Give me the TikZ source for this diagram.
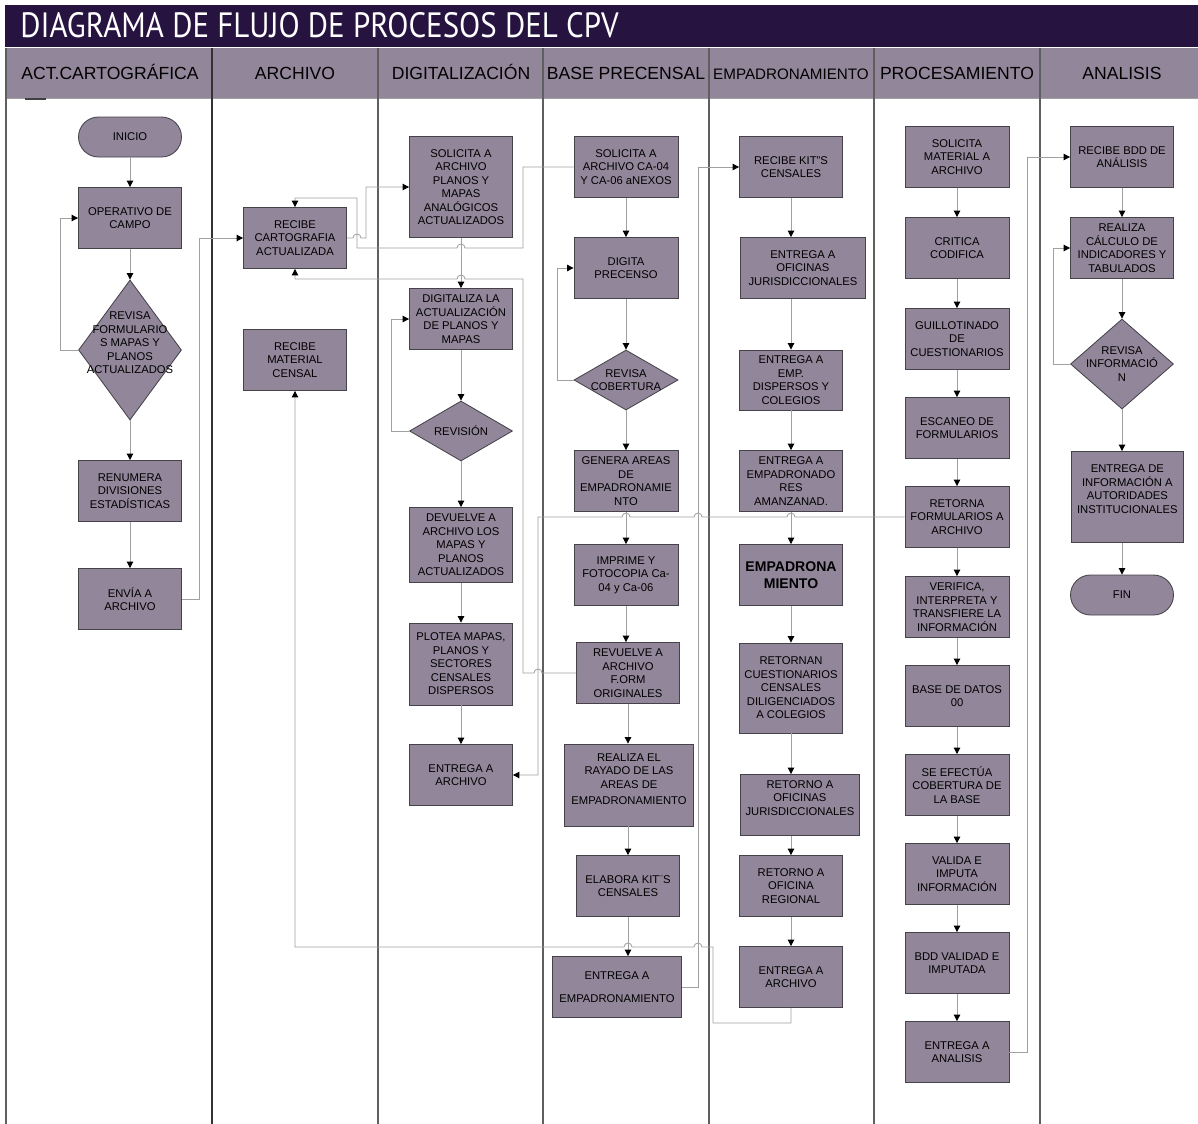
\documentclass[tikz,border=0pt]{standalone}
\usepackage{fontspec}
\setmainfont{Liberation Sans}
\newfontfamily\titlefont[FakeStretch=0.88]{PT Sans}
\usetikzlibrary{shapes.geometric}
\usetikzlibrary{arrows.meta}
\definecolor{titlebg}{RGB}{39,19,64}
\definecolor{boxbg}{RGB}{146,135,154}
\definecolor{boxline}{RGB}{70,66,74}
\definecolor{linkgray}{RGB}{160,160,160}
\definecolor{lanegray}{RGB}{95,95,95}
\tikzset{
	wh/.style 2 args={minimum width=#1*0.025cm, minimum height=#2*0.025cm},
	proc/.style={rectangle, draw=boxline, fill=boxbg, line width=0.6pt, inner sep=1pt, align=center, font=\fontsize{8}{9.6}\selectfont, wh={103}{61}},
	term/.style={proc, rounded corners=0.5cm, wh={103}{40}},
	dec/.style={diamond, draw=boxline, fill=boxbg, line width=0.6pt, inner sep=0pt, wh={103}{60}},
	dtxt/.style={align=center, font=\fontsize{8}{9.6}\selectfont, inner sep=0pt},
	link/.style={draw=linkgray, line width=0.6pt, -{Triangle[length=4.6pt,width=4.6pt,color=black]}},
	lane/.style={draw=lanegray, line width=0.8pt},
	head/.style={font=\fontsize{12.5}{14}\selectfont, anchor=base}
}

\begin{document}
\begin{tikzpicture}[x=0.025cm, y=-0.025cm]
	\useasboundingbox (0,0) rectangle (1198,1124);
	% Title
	\fill[titlebg] (5,5) rectangle (1198,47);
	\node[font=\titlefont\fontsize{25}{28}\selectfont, text=white, anchor=base west, inner sep=0pt] (title) at (20,37) {DIAGRAMA DE FLUJO DE PROCESOS DEL CPV};
	\fill[boxbg] (5,48) rectangle (1198,98);
	\draw[linkgray] (5,98) -- (1198,98);
	\draw[line width=1.5pt, black!75] (25,99) -- (46,99);

	% lanes
	\draw[lane] (6,48) -- (6,1124);
	\draw[lane, line width=1.2pt, black!80] (212,48) -- (212,1124);
	\draw[lane] (378,48) -- (378,1124);
	\draw[lane] (543,48) -- (543,1124);
	\draw[lane] (709,48) -- (709,1124);
	\draw[lane] (874,48) -- (874,1124);
	\draw[lane] (1040,48) -- (1040,1124);

	\node[head] (h1) at (110,79) {ACT.CARTOGRÁFICA};
	\node[head] (h2) at (295,79) {ARCHIVO};
	\node[head] (h3) at (461,79) {DIGITALIZACIÓN};
	\node[head] (h4) at (626,79) {BASE PRECENSAL};
	\node[head, font=\fontsize{10.8}{12}\selectfont] (h5) at (791,79) {EMPADRONAMIENTO};
	\node[head] (h6) at (957,79) {PROCESAMIENTO};
	\node[head] (h7) at (1122,79) {ANALISIS};

	% act. cartografica
	\node[term] (ini) at (130,137) {INICIO};
	\node[proc] (oper) at (130,218) {OPERATIVO DE\\CAMPO};
	\node[dec, wh={103}{140}, label={[dtxt, yshift=5pt]center:{REVISA\\FORMULARIO\\S MAPAS Y\\PLANOS\\ACTUALIZADOS}}] (rev1) at (130,350) {};
	\node[proc] (renum) at (130,491) {RENUMERA\\DIVISIONES\\ESTADÍSTICAS};
	\node[proc] (envia) at (130,599) {ENVÍA A\\ARCHIVO};

	% archivo
	\node[proc] (rcarto) at (295,238) {RECIBE\\CARTOGRAFIA\\ACTUALIZADA};
	\node[proc] (rmat) at (295,360) {RECIBE\\MATERIAL\\CENSAL};

	% digitalizacion
	\node[proc, wh={103}{101}] (sol3) at (461,187) {SOLICITA A\\ARCHIVO\\PLANOS Y\\MAPAS\\ANALÓGICOS\\ACTUALIZADOS};
	\node[proc] (digi) at (461,319) {DIGITALIZA LA\\ACTUALIZACIÓN\\DE PLANOS Y\\MAPAS};
	\node[dec, label={[dtxt]center:REVISIÓN}] (revi) at (461,431) {};
	\node[proc, wh={103}{75}] (devu) at (461,545) {DEVUELVE A\\ARCHIVO LOS\\MAPAS Y\\PLANOS\\ACTUALIZADOS};
	\node[proc, wh={103}{82}] (plot) at (461,664) {PLOTEA MAPAS,\\PLANOS Y\\SECTORES\\CENSALES\\DISPERSOS};
	\node[proc] (ent3) at (461,775) {ENTREGA A\\ARCHIVO};

	% base precensal
	\node[proc, wh={104}{61}] (sol4) at (626,167) {SOLICITA A\\ARCHIVO CA-04\\Y CA-06 aNEXOS};
	\node[proc, wh={104}{61}] (digp) at (626,268) {DIGITA\\PRECENSO};
	\node[dec, wh={104}{60}, label={[dtxt]center:{REVISA\\COBERTURA}}] (revc) at (626,380) {};
	\node[proc, wh={104}{61}] (gen) at (626,481) {GENERA AREAS\\DE\\EMPADRONAMIE\\NTO};
	\node[proc, wh={104}{61}] (impr) at (626,575) {IMPRIME Y\\FOTOCOPIA Ca-\\04 y Ca-06};
	\node[proc] (revu) at (628,673) {REVUELVE A\\ARCHIVO\\F.ORM\\ORIGINALES};
	\node[proc, wh={129}{82}] (raya) at (629,785) {REALIZA EL\\RAYADO DE LAS\\AREAS DE\\[2pt]EMPADRONAMIENTO\\[-1pt]};
	\node[proc] (elab) at (628,886) {ELABORA KIT¨S\\CENSALES};
	\node[proc, wh={129}{61}] (entemp) at (617,987) {ENTREGA A\\[7pt]EMPADRONAMIENTO};

	% empadronamiento
	\node[proc] (rkit) at (791,167) {RECIBE KIT"S\\CENSALES};
	\node[proc, wh={125}{61}, anchor=west] (eofi) at (740,268) {ENTREGA A\\OFICINAS\\JURISDICCIONALES};
	\node[proc, wh={103}{60}] (edis) at (791,380) {ENTREGA A\\EMP.\\DISPERSOS Y\\COLEGIOS};
	\node[proc] (eama) at (791,481) {ENTREGA A\\EMPADRONADO\\RES\\AMANZANAD.};
	\node[proc, font=\bfseries\fontsize{10}{12}\selectfont] (empa) at (791,575) {EMPADRONA\\MIENTO};
	\node[proc, wh={103}{90}] (rcue) at (791,688) {RETORNAN\\CUESTIONARIOS\\CENSALES\\DILIGENCIADOS\\A COLEGIOS};
	\node[proc, wh={119}{61}, anchor=west] (rofi) at (740,805) {RETORNO A\\OFICINAS\\JURISDICCIONALES\\[0.3pt]};
	\node[proc] (rreg) at (791,886) {RETORNO A\\OFICINA\\REGIONAL};
	\node[proc] (ent5) at (791,977) {ENTREGA A\\ARCHIVO};

	% procesamiento
	\node[proc, wh={104}{61}] (smat) at (957,157) {SOLICITA\\MATERIAL A\\ARCHIVO};
	\node[proc, wh={104}{61}] (crit) at (957,248) {CRITICA\\CODIFICA};
	\node[proc, wh={104}{61}] (guil) at (957,339) {GUILLOTINADO\\DE\\CUESTIONARIOS};
	\node[proc, wh={104}{61}] (esca) at (957,428) {ESCANEO DE\\FORMULARIOS};
	\node[proc, wh={104}{61}] (retf) at (957,517) {RETORNA\\FORMULARIOS A\\ARCHIVO};
	\node[proc, wh={104}{61}] (veri) at (957,607) {VERIFICA,\\INTERPRETA Y\\TRANSFIERE LA\\INFORMACIÓN};
	\node[proc, wh={104}{61}] (bdd0) at (957,696) {BASE DE DATOS\\00};
	\node[proc, wh={104}{61}] (cobe) at (957,785) {SE EFECTÚA\\COBERTURA DE\\LA BASE};
	\node[proc, wh={104}{61}] (vali) at (957,874) {VALIDA E\\IMPUTA\\INFORMACIÓN};
	\node[proc, wh={104}{61}] (bddv) at (957,963) {BDD VALIDAD E\\IMPUTADA};
	\node[proc, wh={104}{61}] (eana) at (957,1052) {ENTREGA A\\ANALISIS};

	% analisis
	\node[proc] (rbdd) at (1122,157) {RECIBE BDD DE\\ANÁLISIS};
	\node[proc] (calc) at (1122,248) {REALIZA\\CÁLCULO DE\\INDICADORES Y\\TABULADOS};
	\node[dec, wh={103}{90}, label={[dtxt]center:{REVISA\\INFORMACIÓ\\N}}] (revinf) at (1122,364) {};
	\node[proc, wh={112}{91}, anchor=west] (eaut) at (1071,497) {ENTREGA DE\\INFORMACIÓN A\\AUTORIDADES\\INSTITUCIONALES\\[1.7pt]};
	\node[term] (fin) at (1122,595) {FIN};

	% flow inside lanes
	\path[link] (ini) edge (oper);
	\path[link] (oper) edge (rev1);
	\path[link] (rev1) edge (renum);
	\path[link] (renum) edge (envia);

	\path[link] (sol3) edge (digi);
	\path[link] (digi) edge (revi);
	\path[link] (revi) edge (devu);
	\path[link] (devu) edge (plot);
	\path[link] (plot) edge (ent3);

	\path[link] (sol4) edge (digp);
	\path[link] (digp) edge (revc);
	\path[link] (revc) edge (gen);
	\path[link] (gen) edge (impr);
	\draw[link] (impr) -- (impr |- revu.north);
	\draw[link] (revu) -- (revu |- raya.north);
	\draw[link] (revu |- raya.south) -- (elab);
	\draw[link] (elab) -- (elab |- entemp.north);

	\draw[link] (rkit) -- (rkit |- eofi.north);
	\draw[link] (rkit |- eofi.south) -- (edis);
	\path[link] (edis) edge (eama);
	\path[link] (eama) edge (empa);
	\path[link] (empa) edge (rcue);
	\draw[link] (rcue) -- (rcue |- rofi.north);
	\draw[link] (rcue |- rofi.south) -- (rreg);
	\path[link] (rreg) edge (ent5);

	\path[link] (smat) edge (crit);
	\path[link] (crit) edge (guil);
	\path[link] (guil) edge (esca);
	\path[link] (esca) edge (retf);
	\path[link] (retf) edge (veri);
	\path[link] (veri) edge (bdd0);
	\path[link] (bdd0) edge (cobe);
	\path[link] (cobe) edge (vali);
	\path[link] (vali) edge (bddv);
	\path[link] (bddv) edge (eana);

	\path[link] (rbdd) edge (calc);
	\path[link] (calc) edge (revinf);
	\draw[link] (revinf) -- (revinf |- eaut.north);
	\draw[link] (revinf |- eaut.south) -- (fin);

	% loops back
	\draw[link] (rev1.west) -- (60,350) |- (oper.west);
	\draw[link] (revi.west) -- (391,431) |- (digi.west);
	\draw[link] (revc.west) -- (557,380) |- (digp.west);
	\draw[link] (revinf.west) -- (1053,364) |- (calc.west);

	% between lanes
	\draw[link] (envia.east) -- (199,599) |- (rcarto.west);
	\draw[link] (rcarto.east) -- (353,238) arc[start angle=180, end angle=360, radius=4] -- (366,238) |- (sol3.west);
	\draw[link] (sol4.west) -- (523,167) -- (523,248) -- (465,248) arc[start angle=0, end angle=-180, radius=4] -- (357,248) -- (357,198) -| (rcarto.north);
	\draw[link] (revu.west) -- (542,673) arc[start angle=0, end angle=-180, radius=4] -- (523,673) |- (465,279) arc[start angle=0, end angle=-180, radius=4] -| (rcarto.south);
	\draw[link] (retf.west) -- (795,517) arc[start angle=0, end angle=-180, radius=4] -- (702,517) arc[start angle=0, end angle=-180, radius=4] -- (630,517) arc[start angle=0, end angle=-180, radius=4] -- (538,517) |- (ent3.east);
	\draw[link] (entemp.east) -- (698,987) |- (rkit.west);
	\draw[link] (ent5.south) |- (713,1023) -- (713,947) -- (702,947) arc[start angle=0, end angle=-180, radius=4] -- (632,947) arc[start angle=0, end angle=-180, radius=4] -- (295,947) -- (rmat.south);
	\draw[link] (eana.east) -- (1027,1052) |- (rbdd.west);
\end{tikzpicture}
\end{document}
